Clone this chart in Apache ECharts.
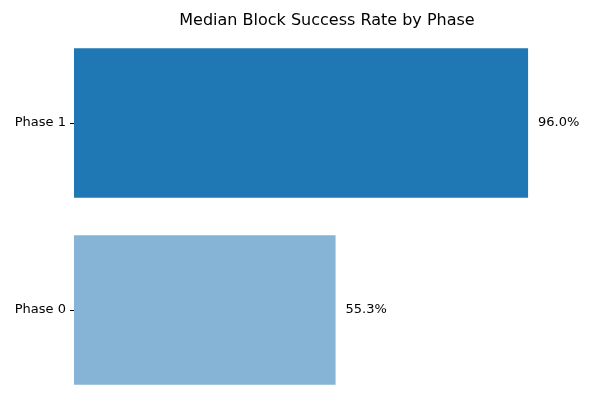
<!DOCTYPE html>
<html><head><meta charset="utf-8">
<script src="https://cdn.jsdelivr.net/npm/echarts@6/dist/echarts.min.js"></script>
<style>html,body{margin:0;padding:0;background:#fff}#c{width:591px;height:411px}</style>
</head><body><div id="c"></div>
<script>
const categories = ['Phase 0', 'Phase 1'];
const values = [55.3, 96.0];
const colors = ['#86b4d6', '#1f77b4'];
const chart = echarts.init(document.getElementById('c'));
chart.setOption({
  animation: false,
  title: {text: 'Median Block Success Rate by Phase', left: 322, textAlign: 'center', top: 8,
    textStyle: {fontFamily: 'DejaVu Sans', fontSize: 16, fontWeight: 'normal', color: '#000'}},
  grid: {left: 74, right: 44, top: 29.5, bottom: 7.5, containLabel: false},
  xAxis: {type: 'value', min: 0, max: 100, show: false},
  yAxis: {type: 'category', data: categories,
    axisLine: {show: false},
    axisTick: {show: true, alignWithLabel: true, length: 4, lineStyle: {color: '#000'}},
    axisLabel: {fontFamily: 'DejaVu Sans', fontSize: 13, color: '#000', margin: 8}},
  series: [{type: 'bar', barCategoryGap: '20%',
    data: values.map((v, i) => ({value: v, itemStyle: {color: colors[i]}})),
    label: {show: true, position: 'right', distance: 10, formatter: p => p.value.toFixed(1) + '%',
      fontFamily: 'DejaVu Sans', fontSize: 13, color: '#000'}}]
});
</script></body></html>
